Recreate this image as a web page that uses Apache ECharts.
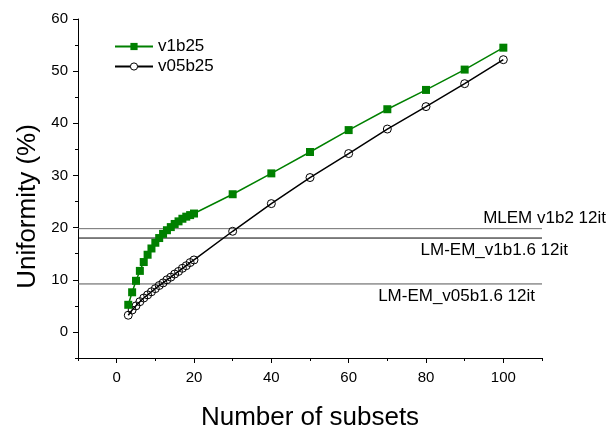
<!DOCTYPE html>
<html lang="en">
<head>
	<meta charset="UTF-8">
	<title>Uniformity vs subsets</title>
	<script src="https://cdn.jsdelivr.net/npm/echarts@6/dist/echarts.min.js"></script>
	<style>
		html,body{margin:0;padding:0;background:#fff;}
		#chart{width:610px;height:426px;}
	</style>
</head>
<body>
<div id="chart"></div>
<script>
	// data
	var subsets = [3,4,5,6,7,8,9,10,11,12,13,14,15,16,17,18,19,20,30,40,50,60,70,80,90,100];
	var v1b25 = [5.2,7.6,9.8,11.7,13.4,14.8,16.0,17.1,18.0,18.8,19.5,20.1,20.7,21.2,21.7,22.1,22.4,22.7,26.4,30.4,34.5,38.7,42.7,46.4,50.3,54.5];
	var v05b25 = [3.2,4.2,5.0,5.8,6.5,7.1,7.7,8.3,8.9,9.4,10.0,10.5,11.1,11.6,12.2,12.7,13.3,13.8,19.3,24.6,29.6,34.2,38.9,43.2,47.6,52.2];
	var refNames = ['MLEM v1b2 12it','LM-EM_v1b1.6 12it','LM-EM_v05b1.6 12it'];
	var refValues = [19.8,18.0,9.2];
	var refColors = ['#6e6e6e','#000','#555'];
	var xTicks = [0,20,40,60,80,100];
	var xMinor = [-10,10,30,50,70,90,110];
	var yTicks = [0,10,20,30,40,50,60];
	var yMinor = [-5,5,15,25,35,45,55];

	var font = 'Arial, "Liberation Sans", sans-serif';
	var myChart = echarts.init(document.getElementById('chart'));

	function pairs(xs,ys){
		var out=[];
		for(var i=0;i<xs.length;i++){ out.push([xs[i],ys[i]]); }
		return out;
	}

	var series = [
		{
			name:'v1b25', type:'line', data:pairs(subsets,v1b25),
			symbol:'rect', symbolSize:8, z:4,
			lineStyle:{color:'#008000',width:1.5},
			itemStyle:{color:'#008000'}
		},
		{
			name:'v05b25', type:'line', data:pairs(subsets,v05b25),
			symbol:'circle', symbolSize:8, z:3,
			lineStyle:{color:'#000',width:1.5},
			itemStyle:{color:'rgba(255,255,255,0)',borderColor:'#000',borderWidth:1}
		}
	];
	for(var i=0;i<refValues.length;i++){
		series.push({
			name:refNames[i], type:'line', silent:true, symbol:'none', z:1,
			data:[[-10,refValues[i]],[110,refValues[i]]],
			lineStyle:{color:refColors[i],width:1}
		});
	}

	var option = {
		animation:false,
		grid:{left:78,right:68,top:19,bottom:68,outerBoundsMode:'none',containLabel:false},
		legend:{
			data:[
				{name:'v1b25',itemStyle:{color:'#008000'}},
				{name:'v05b25',itemStyle:{color:'#fff',borderColor:'#000',borderWidth:1}}
			],
			orient:'vertical', left:114, top:38, padding:0, itemWidth:38, itemHeight:9, itemGap:3,
			textStyle:{fontFamily:font,fontSize:17,color:'#000'}
		},
		xAxis:[
			{
				type:'value', min:-10, max:110,
				name:'Number of subsets', nameLocation:'middle', nameGap:47,
				nameTextStyle:{fontFamily:font,fontSize:26,color:'#000'},
				axisLine:{show:true,onZero:false,lineStyle:{color:'#000',width:1}},
				axisTick:{show:true,length:5,customValues:xTicks,lineStyle:{color:'#000'}},
				axisLabel:{customValues:xTicks,margin:12,fontFamily:font,fontSize:15,color:'#000'},
				splitLine:{show:false}
			},
			{
				type:'value', min:-10, max:110, position:'bottom',
				axisLine:{show:false,onZero:false},
				axisTick:{show:true,length:3,customValues:xMinor,lineStyle:{color:'#000'}},
				axisLabel:{show:false},
				splitLine:{show:false}
			}
		],
		yAxis:[
			{
				type:'value', min:-5, max:60,
				name:'Uniformity (%)', nameLocation:'middle', nameGap:36,
				nameTextStyle:{fontFamily:font,fontSize:26,color:'#000',padding:[0,36,0,0]},
				axisLine:{show:true,onZero:false,lineStyle:{color:'#000',width:1}},
				axisTick:{show:true,length:5,customValues:yTicks,lineStyle:{color:'#000'}},
				axisLabel:{customValues:yTicks,margin:10,fontFamily:font,fontSize:15,color:'#000'},
				splitLine:{show:false}
			},
			{
				type:'value', min:-5, max:60, position:'left',
				axisLine:{show:false,onZero:false},
				axisTick:{show:true,length:3,customValues:yMinor,lineStyle:{color:'#000'}},
				axisLabel:{show:false},
				splitLine:{show:false}
			}
		],
		series:series
	};
	myChart.setOption(option);

	// reference labels placed next to the right end of their lines
	var labelDx = [64,26,-7];
	var labelDy = [-10,12,12];
	var texts = [];
	for(var j=0;j<refValues.length;j++){
		var p = myChart.convertToPixel({xAxisIndex:0,yAxisIndex:0},[110,refValues[j]]);
		texts.push({
			type:'text', x:p[0]+labelDx[j], y:p[1]+labelDy[j],
			style:{text:refNames[j],align:'right',verticalAlign:'middle',fontFamily:font,fontSize:17,fill:'#000'}
		});
	}
	myChart.setOption({graphic:texts});
</script>
</body>
</html>
